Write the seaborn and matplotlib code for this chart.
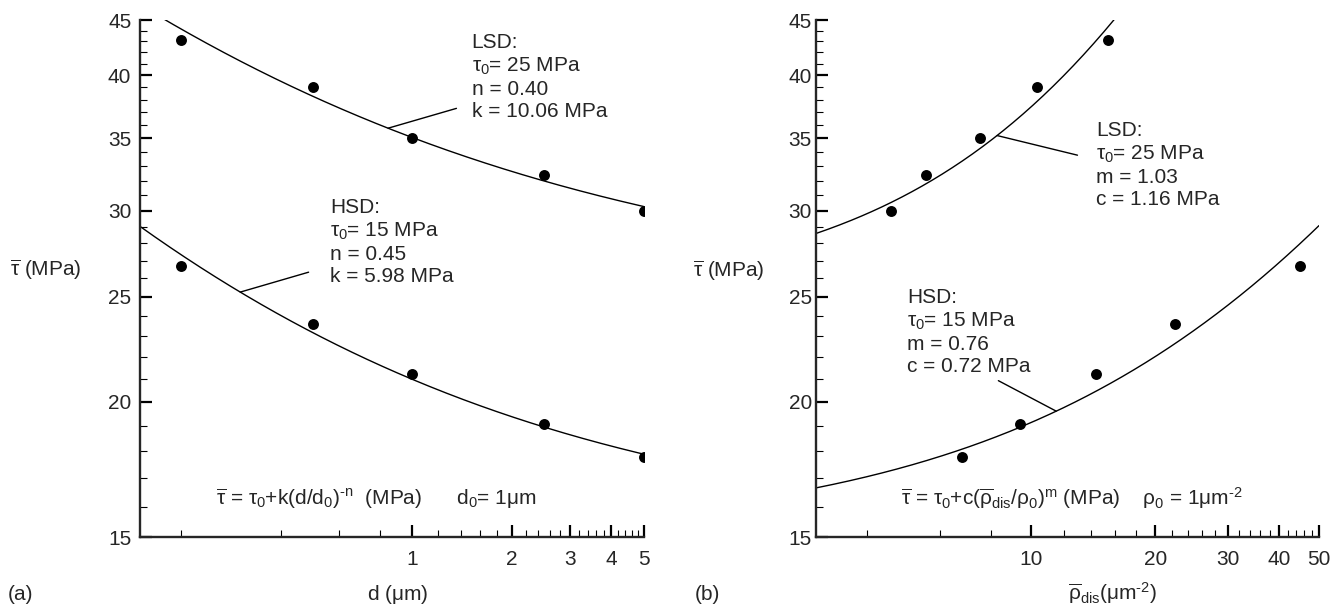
import numpy as np
import pandas as pd
import matplotlib
matplotlib.use("Agg")
import matplotlib.pyplot as plt
import seaborn as sns
from matplotlib.ticker import FixedLocator, FixedFormatter, NullFormatter

# ---------------- data ----------------
d_um = [0.2, 0.5, 1.0, 2.5, 5.0]                 # grain size (um)
tau_lsd = [43.1, 39.0, 35.0, 32.4, 30.0]         # LSD mean stress (MPa)
tau_hsd = [26.7, 23.6, 21.2, 19.1, 17.8]         # HSD mean stress (MPa)
rho_lsd = [15.4, 10.3, 7.5, 5.54, 4.57]          # dislocation density (um^-2), LSD
rho_hsd = [44.9, 22.3, 14.4, 9.37, 6.8]          # dislocation density (um^-2), HSD

# fitted-curve parameters printed in the chart
lsd_a = {"tau0": 25, "n": 0.40, "k": 10.06}
hsd_a = {"tau0": 15, "n": 0.45, "k": 5.98}
lsd_b = {"tau0": 25, "m": 1.03, "c": 1.16}
hsd_b = {"tau0": 15, "m": 0.76, "c": 0.72}

# axes ranges and ticks
xa_lim = [0.15, 5]
xb_lim = [3, 50]
y_lim = [15, 45]
xa_major = [1, 2, 3, 4, 5]
xa_minor = [0.2, 0.4, 0.6, 0.8, 1.2, 1.4, 1.6, 1.8, 2.2, 2.4, 2.6, 2.8,
            3.2, 3.4, 3.6, 3.8, 4.2, 4.4, 4.6, 4.8]
xb_major = [10, 20, 30, 40, 50]
xb_minor = [4, 6, 8, 12, 14, 16, 18, 22, 24, 26, 28, 32, 34, 36, 38,
            42, 44, 46, 48]
y_major = [15, 20, 25, 30, 35, 40, 45]
y_minor = [v for v in range(16, 45) if v % 5 != 0]

# leader-line anchors (data coords): (text end, curve point)
lead_a_lsd = [(1.36, 37.3), 0.845]
lead_a_hsd = [(0.486, 26.34), 0.302]
lead_b_lsd = [(12.95, 33.77), 8.26]
lead_b_hsd = [(8.32, 20.92), 11.5]

# ---------------- style ----------------
sns.set_style("ticks")
plt.rcParams["font.family"] = ["Liberation Sans", "DejaVu Sans"]
plt.rcParams["mathtext.fontset"] = "custom"
plt.rcParams["mathtext.rm"] = "Liberation Sans"
plt.rcParams["mathtext.it"] = "Liberation Sans"
plt.rcParams["mathtext.bf"] = "Liberation Sans:bold"
plt.rcParams["mathtext.sf"] = "Liberation Sans"
FS = 15

W, H = 1344, 608
fig = plt.figure(figsize=(W / 100, H / 100), dpi=100)


def px(x, y):
    return x / W, 1 - y / H


ax_a = fig.add_axes([139.7 / W, 1 - 537.3 / H, (643.5 - 139.7) / W, (537.3 - 20) / H])
ax_b = fig.add_axes([816 / W, 1 - 537.3 / H, (1319 - 816) / W, (537.3 - 20) / H])


def fa(d, p):
    return p["tau0"] + p["k"] * np.power(d, -p["n"])


def fb(r, p):
    return p["tau0"] + p["c"] * np.power(r, p["m"])


pts_a = pd.DataFrame({"x": d_um * 2, "tau": tau_lsd + tau_hsd})
pts_b = pd.DataFrame({"x": rho_lsd + rho_hsd, "tau": tau_lsd + tau_hsd})

xg_a = np.geomspace(xa_lim[0], xa_lim[1], 300)
xg_b = np.geomspace(xb_lim[0], xb_lim[1], 300)
curves_a = pd.DataFrame({"x": np.concatenate([xg_a, xg_a]),
                         "tau": np.concatenate([fa(xg_a, lsd_a), fa(xg_a, hsd_a)]),
                         "grp": ["LSD"] * len(xg_a) + ["HSD"] * len(xg_a)})
curves_b = pd.DataFrame({"x": np.concatenate([xg_b, xg_b]),
                         "tau": np.concatenate([fb(xg_b, lsd_b), fb(xg_b, hsd_b)]),
                         "grp": ["LSD"] * len(xg_b) + ["HSD"] * len(xg_b)})

for ax, curves, pts in [(ax_a, curves_a, pts_a), (ax_b, curves_b, pts_b)]:
    sns.lineplot(data=curves, x="x", y="tau", units="grp", estimator=None,
                 color="black", lw=1.0, ax=ax, legend=False, sort=False)
    sns.scatterplot(data=pts, x="x", y="tau", color="black", s=62,
                    edgecolor="black", linewidth=0, ax=ax, legend=False, zorder=3)

for ax, xlim, xmaj, xmin in [(ax_a, xa_lim, xa_major, xa_minor),
                             (ax_b, xb_lim, xb_major, xb_minor)]:
    ax.set_xscale("log")
    ax.set_yscale("log")
    ax.set_xlim(xlim)
    ax.set_ylim(y_lim)
    ax.xaxis.set_major_locator(FixedLocator(xmaj))
    ax.xaxis.set_major_formatter(FixedFormatter([str(v) for v in xmaj]))
    ax.xaxis.set_minor_locator(FixedLocator(xmin))
    ax.xaxis.set_minor_formatter(NullFormatter())
    ax.yaxis.set_major_locator(FixedLocator(y_major))
    ax.yaxis.set_major_formatter(FixedFormatter([str(v) for v in y_major]))
    ax.yaxis.set_minor_locator(FixedLocator(y_minor))
    ax.yaxis.set_minor_formatter(NullFormatter())
    ax.set_xlabel("")
    ax.set_ylabel("")
    sns.despine(ax=ax)
    for s in ("left", "bottom"):
        ax.spines[s].set_linewidth(1.7)
    ax.tick_params(which="major", direction="in", length=8.5, width=1.6,
                   labelsize=FS, color="black")
    ax.tick_params(which="minor", direction="in", length=5, width=0.8, color="black")
    ax.patch.set_alpha(0)

ax_a.tick_params(axis="y", which="major", pad=6)
ax_b.tick_params(axis="y", which="major", pad=3)
ax_a.tick_params(axis="x", which="major", pad=9)
ax_b.tick_params(axis="x", which="major", pad=9)

# leader lines
for ax, lead, f, p in [(ax_a, lead_a_lsd, fa, lsd_a), (ax_a, lead_a_hsd, fa, hsd_a),
                       (ax_b, lead_b_lsd, fb, lsd_b), (ax_b, lead_b_hsd, fb, hsd_b)]:
    (xt, yt), xc = lead
    ax.annotate("", xy=(xc, f(xc, p)), xytext=(xt, yt),
                arrowprops=dict(arrowstyle="-", color="black", lw=1.0,
                                shrinkA=0, shrinkB=0))

# annotation blocks
txt_a_lsd = "LSD:\n$\\tau_0$= %d MPa\nn = %.2f\nk = %.2f MPa" % (lsd_a["tau0"], lsd_a["n"], lsd_a["k"])
txt_a_hsd = "HSD:\n$\\tau_0$= %d MPa\nn = %.2f\nk = %.2f MPa" % (hsd_a["tau0"], hsd_a["n"], hsd_a["k"])
txt_b_lsd = "LSD:\n$\\tau_0$= %d MPa\nm = %.2f\nc = %.2f MPa" % (lsd_b["tau0"], lsd_b["m"], lsd_b["c"])
txt_b_hsd = "HSD:\n$\\tau_0$= %d MPa\nm = %.2f\nc = %.2f MPa" % (hsd_b["tau0"], hsd_b["m"], hsd_b["c"])

fig.text(*px(471.5, 77), txt_a_lsd, fontsize=FS, ha="left", va="center")
fig.text(*px(330, 242), txt_a_hsd, fontsize=FS, ha="left", va="center")
fig.text(*px(1096, 165), txt_b_lsd, fontsize=FS, ha="left", va="center")
fig.text(*px(907, 332), txt_b_hsd, fontsize=FS, ha="left", va="center")

fig.text(*px(216, 499),
         r"$\overline{\tau}$ = $\tau_0$+k(d/d$_0$)$^{\text{-}n}$  (MPa)      d$_0$= 1$\mu$m",
         fontsize=FS, ha="left", va="center")
fig.text(*px(901, 499),
         r"$\overline{\tau}$ = $\tau_0$+c($\overline{\rho}_{\mathrm{dis}}$/$\rho_0$)$^{m}$ (MPa)    $\rho_0$ = 1$\mu$m$^{\text{-}2}$",
         fontsize=FS, ha="left", va="center")

# axis titles and panel labels
fig.text(*px(10, 270), r"$\overline{\tau}$ (MPa)", fontsize=FS, ha="left", va="center")
fig.text(*px(693, 271), r"$\overline{\tau}$ (MPa)", fontsize=FS, ha="left", va="center")
fig.text(*px(398, 594), r"d ($\mu$m)", fontsize=FS, ha="center", va="center")
fig.text(*px(1113, 594), r"$\overline{\rho}_{\mathrm{dis}}$($\mu$m$^{\text{-}2}$)", fontsize=FS,
         ha="center", va="center")
fig.text(*px(8, 594), "(a)", fontsize=FS, ha="left", va="center")
fig.text(*px(695, 594), "(b)", fontsize=FS, ha="left", va="center")

fig.savefig("out.png", dpi=100)
